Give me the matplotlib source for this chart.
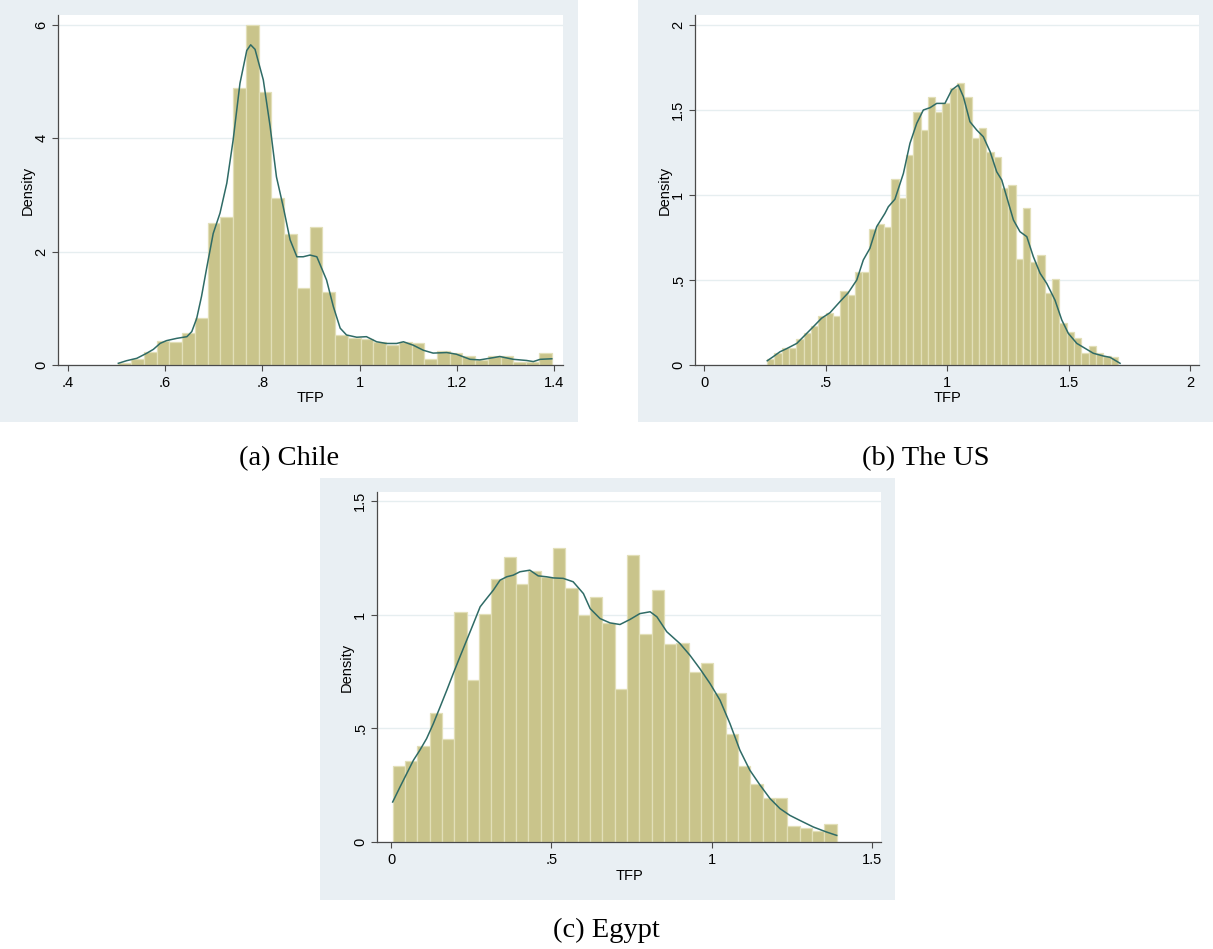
import numpy as np
import matplotlib
matplotlib.use("Agg")
import matplotlib.pyplot as plt
from matplotlib.patches import Rectangle

# ---- data ----
# Chile: 34 bins
chile_bin_start = 0.504
chile_bin_width = 0.0262
chile_heights = [0.03, 0.10, 0.235, 0.43, 0.41, 0.56, 0.835, 2.51, 2.61, 4.89, 6.0, 4.82,
                 2.94, 2.32, 1.35, 2.44, 1.29, 0.53, 0.48, 0.46, 0.40, 0.35, 0.41, 0.39,
                 0.10, 0.25, 0.22, 0.15, 0.09, 0.15, 0.16, 0.06, 0.06, 0.21]
chile_kde_x = [0.504, 0.521, 0.542, 0.562, 0.576, 0.590, 0.603, 0.624, 0.645, 0.655, 0.665,
               0.675, 0.686, 0.699, 0.713, 0.727, 0.740, 0.754, 0.768, 0.776, 0.785, 0.802,
               0.816, 0.829, 0.843, 0.857, 0.871, 0.884, 0.898, 0.912, 0.932, 0.946, 0.960,
               0.973, 0.994, 1.014, 1.035, 1.055, 1.076, 1.090, 1.110, 1.131, 1.151, 1.179,
               1.199, 1.227, 1.247, 1.275, 1.288, 1.316, 1.343, 1.357, 1.371, 1.395]
chile_kde_y = [0.03, 0.076, 0.118, 0.206, 0.276, 0.382, 0.43, 0.47, 0.50, 0.59, 0.82,
               1.21, 1.73, 2.32, 2.68, 3.21, 3.97, 4.97, 5.55, 5.65, 5.57, 5.03,
               4.21, 3.32, 2.79, 2.21, 1.91, 1.91, 1.94, 1.91, 1.50, 1.03, 0.65,
               0.53, 0.49, 0.50, 0.41, 0.38, 0.38, 0.41, 0.35, 0.26, 0.21, 0.22,
               0.19, 0.10, 0.09, 0.13, 0.15, 0.10, 0.08, 0.06, 0.10, 0.11]
chile_xticks = [0.4, 0.6, 0.8, 1.0, 1.2, 1.4]
chile_xlabels = [".4", ".6", ".8", "1", "1.2", "1.4"]
chile_yticks = [0, 2, 4, 6]
chile_ylabels = ["0", "2", "4", "6"]

# The US: 48 bins
us_bin_start = 0.259
us_bin_width = 0.03008
us_heights = [0.035, 0.071, 0.101, 0.098, 0.151, 0.186, 0.227, 0.291, 0.304, 0.291, 0.435, 0.410,
              0.548, 0.548, 0.798, 0.829, 0.814, 1.093, 0.984, 1.235, 1.490, 1.382, 1.578, 1.490,
              1.539, 1.627, 1.657, 1.578, 1.337, 1.392, 1.251, 1.222, 1.043, 1.059, 0.624, 0.925,
              0.608, 0.647, 0.422, 0.504, 0.245, 0.196, 0.157, 0.069, 0.112, 0.069, 0.053, 0.045]
us_kde_x = [0.2595, 0.284, 0.312, 0.339, 0.381, 0.415, 0.449, 0.483, 0.518, 0.559, 0.593, 0.628,
            0.655, 0.682, 0.710, 0.744, 0.758, 0.785, 0.820, 0.847, 0.875, 0.902, 0.930, 0.957,
            0.991, 1.019, 1.046, 1.067, 1.094, 1.122, 1.149, 1.177, 1.204, 1.225, 1.245, 1.273,
            1.300, 1.328, 1.355, 1.383, 1.410, 1.444, 1.472, 1.499, 1.534, 1.568, 1.602, 1.643,
            1.671, 1.712]
us_kde_y = [0.025, 0.049, 0.078, 0.096, 0.127, 0.176, 0.225, 0.275, 0.308, 0.373, 0.425, 0.500,
            0.618, 0.686, 0.814, 0.892, 0.931, 0.975, 1.127, 1.304, 1.422, 1.500, 1.514, 1.539,
            1.539, 1.618, 1.647, 1.578, 1.431, 1.382, 1.343, 1.255, 1.137, 1.088, 0.990, 0.853,
            0.784, 0.755, 0.637, 0.539, 0.480, 0.382, 0.265, 0.186, 0.127, 0.098, 0.069, 0.053,
            0.045, 0.01]
us_xticks = [0, 0.5, 1, 1.5, 2]
us_xlabels = ["0", ".5", "1", "1.5", "2"]
us_yticks = [0, 0.5, 1, 1.5, 2]
us_ylabels = ["0", ".5", "1", "1.5", "2"]

# Egypt: 36 bins
egypt_bin_start = 0.0052
egypt_bin_width = 0.03847
egypt_heights = [0.335, 0.357, 0.423, 0.568, 0.455, 1.013, 0.715, 1.002, 1.157, 1.256, 1.135, 1.193,
                 1.164, 1.295, 1.118, 0.998, 1.076, 0.964, 0.675, 1.262, 0.914, 1.108, 0.870, 0.876,
                 0.749, 0.788, 0.656, 0.477, 0.335, 0.254, 0.195, 0.195, 0.070, 0.063, 0.048, 0.081]
egypt_kde_x = [0.0052, 0.028, 0.049, 0.070, 0.090, 0.111, 0.132, 0.153, 0.174, 0.194, 0.215, 0.236,
               0.257, 0.278, 0.298, 0.319, 0.340, 0.361, 0.381, 0.402, 0.433, 0.459, 0.485, 0.506,
               0.537, 0.568, 0.600, 0.621, 0.652, 0.683, 0.714, 0.745, 0.776, 0.808, 0.829, 0.860,
               0.901, 0.932, 0.963, 0.995, 1.026, 1.057, 1.088, 1.119, 1.151, 1.182, 1.213, 1.244,
               1.275, 1.317, 1.358, 1.390]
egypt_kde_y = [0.176, 0.242, 0.301, 0.360, 0.404, 0.455, 0.521, 0.594, 0.668, 0.741, 0.815, 0.888,
               0.961, 1.035, 1.071, 1.108, 1.152, 1.167, 1.174, 1.189, 1.196, 1.171, 1.167, 1.162,
               1.160, 1.145, 1.093, 1.027, 0.983, 0.964, 0.957, 0.979, 1.005, 1.013, 0.991, 0.925,
               0.873, 0.822, 0.763, 0.697, 0.624, 0.521, 0.404, 0.316, 0.250, 0.191, 0.147, 0.117,
               0.095, 0.066, 0.044, 0.029]
egypt_xticks = [0, 0.5, 1, 1.5]
egypt_xlabels = ["0", ".5", "1", "1.5"]
egypt_yticks = [0, 0.5, 1, 1.5]
egypt_ylabels = ["0", ".5", "1", "1.5"]

captions = ["(a) Chile", "(b) The US", "(c) Egypt"]

# ---- styling ----
W, H = 1213, 949
BG = "#e9eff3"
BAR = "#c9c48b"
BAR_EDGE = "#e2dfb8"
KDE = "#2f6b66"
AXIS = "#4a4a4a"
GRID = "#e6eef0"
SANS = ["Liberation Sans", "DejaVu Sans"]
SERIF = ["Liberation Serif", "DejaVu Serif"]

fig = plt.figure(figsize=(W / 100, H / 100), dpi=100)
fig.patch.set_facecolor("white")


def px_rect(x0, y0, x1, y1):
    # pixel box (top-left origin) -> figure fraction [left, bottom, width, height]
    return [x0 / W, 1 - y1 / H, (x1 - x0) / W, (y1 - y0) / H]


def draw_panel(bg_box, ax_box, start, width, heights, kx, ky,
               xlim, ylim, xticks, xlabels, yticks, ylabels):
    l, b, w, h = px_rect(*bg_box)
    bg = Rectangle((l, b), w, h, transform=fig.transFigure,
                   facecolor=BG, edgecolor="none", zorder=-10)
    fig.add_artist(bg)
    ax = fig.add_axes(px_rect(*ax_box))
    ax.set_zorder(1)
    ax.set_facecolor("white")
    edges = start + width * np.arange(len(heights))
    ax.bar(edges, heights, width=width, align="edge", color=BAR,
           edgecolor=BAR_EDGE, linewidth=0.9, zorder=2)
    ax.plot(kx, ky, color=KDE, linewidth=1.1, zorder=3)
    ax.set_xlim(*xlim)
    ax.set_ylim(*ylim)
    ax.set_xticks(xticks)
    ax.set_xticklabels(xlabels, fontfamily=SANS, fontsize=10.5)
    ax.set_yticks(yticks)
    ax.set_yticklabels(ylabels, fontfamily=SANS, fontsize=10.5, rotation=90, va="center")
    ax.tick_params(length=4, width=0.8, color=AXIS, pad=4)
    ax.tick_params(axis="y", pad=3)
    for s in ["top", "right"]:
        ax.spines[s].set_visible(False)
    for s in ["left", "bottom"]:
        ax.spines[s].set_color(AXIS)
        ax.spines[s].set_linewidth(0.9)
    ax.yaxis.grid(True, color=GRID, linewidth=1.0)
    ax.set_axisbelow(True)
    ax.set_xlabel("TFP", fontfamily=SANS, fontsize=10.5, labelpad=1)
    ax.set_ylabel("Density", fontfamily=SANS, fontsize=10.5, labelpad=0)
    return ax


draw_panel((0, 0, 578, 422), (58, 15, 563, 365), chile_bin_start, chile_bin_width,
           chile_heights, chile_kde_x, chile_kde_y, (0.380, 1.418), (0, 6.176),
           chile_xticks, chile_xlabels, chile_yticks, chile_ylabels)
draw_panel((638, 0, 1213, 422), (695, 15, 1199, 365), us_bin_start, us_bin_width,
           us_heights, us_kde_x, us_kde_y, (-0.038, 2.037), (0, 2.059),
           us_xticks, us_xlabels, us_yticks, us_ylabels)
draw_panel((320, 478, 895, 900), (377, 492, 881, 842), egypt_bin_start, egypt_bin_width,
           egypt_heights, egypt_kde_x, egypt_kde_y, (-0.0437, 1.528), (0, 1.540),
           egypt_xticks, egypt_xlabels, egypt_yticks, egypt_ylabels)

# captions under each panel
for text, (cx, cy) in zip(captions, [(289, 465), (925.5, 465), (606, 937)]):
    fig.text(cx / W, 1 - cy / H, text, ha="center", va="baseline",
             fontfamily=SERIF, fontsize=20.5)

fig.savefig("out.png", dpi=100)
